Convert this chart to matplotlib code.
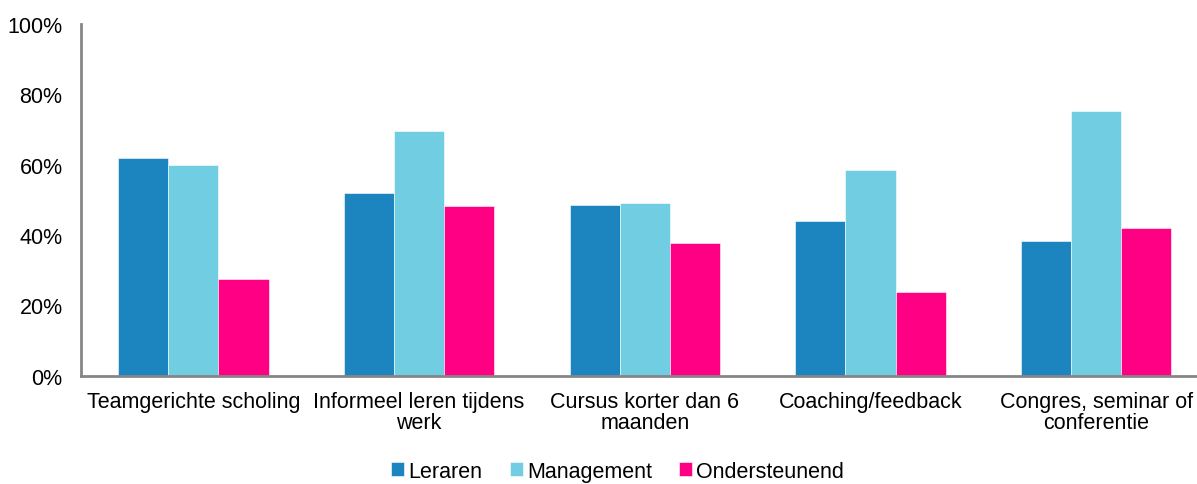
import matplotlib.pyplot as plt
import numpy as np

plt.rcParams['font.family'] = ['Liberation Sans', 'DejaVu Sans']

categories = ['Teamgerichte scholing', 'Informeel leren tijdens\nwerk',
              'Cursus korter dan 6\nmaanden', 'Coaching/feedback',
              'Congres, seminar of\nconferentie']
leraren = [61.8, 51.9, 48.5, 44.0, 38.4]
management = [59.9, 69.7, 49.0, 58.5, 75.2]
ondersteunend = [27.6, 48.3, 37.8, 23.8, 42.0]
series = ['Leraren', 'Management', 'Ondersteunend']
colors = ['#1C84BE', '#70CDE2', '#FF0084']

fig = plt.figure(figsize=(11.97, 4.85), dpi=100)
ax = fig.add_axes([0.0673, 0.2233, 0.9428, 0.7252])

x = np.arange(len(categories))
w = 0.222
for i, (vals, name, c) in enumerate(zip([leraren, management, ondersteunend], series, colors)):
    ax.bar(x + (i - 1) * w, vals, width=w, color=c, label=name,
           edgecolor='white', linewidth=0.4)

ax.set_xlim(-0.5, len(categories) - 0.5)
ax.set_ylim(0, 100)
ax.set_yticks(range(0, 101, 20))
ax.set_yticklabels([f'{v}%' for v in range(0, 101, 20)])
ax.set_xticks(x)
ax.set_xticklabels(categories, linespacing=1.0)
ax.tick_params(axis='both', length=0, labelsize=15.5, colors='black')
ax.tick_params(axis='y', pad=13)
ax.tick_params(axis='x', pad=11)

for s in ['top', 'right']:
    ax.spines[s].set_visible(False)
for s in ['left', 'bottom']:
    ax.spines[s].set_color('#868686')
    ax.spines[s].set_linewidth(2)

leg = fig.legend(loc='lower center', bbox_to_anchor=(0.516, -0.035), ncol=3,
                 frameon=False, fontsize=15.5, handlelength=0.6, handleheight=0.6,
                 handletextpad=0.2, columnspacing=1.25)

fig.savefig('out.png', dpi=100)
